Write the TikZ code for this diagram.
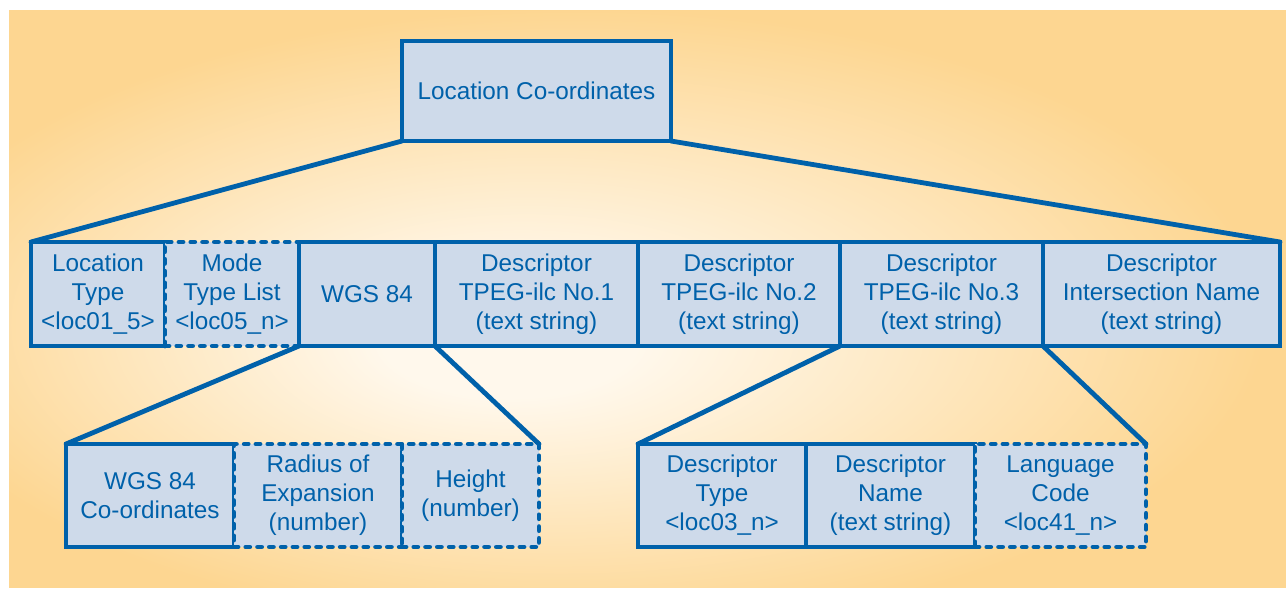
\documentclass[tikz,border=0pt]{standalone}
\usepackage{fontspec}
\setmainfont{Liberation Sans}
\usetikzlibrary{positioning}
\definecolor{lineblue}{RGB}{0,97,170}
\definecolor{boxfill}{RGB}{206,218,234}
\definecolor{bgout}{RGB}{253,214,145}
\definecolor{bgin}{RGB}{255,248,236}
\pgfdeclareradialshading{bgglow}{\pgfpoint{-6bp}{-4bp}}{color(0bp)=(bgin); color(5bp)=(bgin); color(27bp)=(bgout); color(50bp)=(bgout)}
\tikzset{
    x=1pt,
    y=-1pt,
    field/.style = {
        draw=lineblue,
        fill=boxfill,
        shape=rectangle,
        minimum height=104pt,
        line width=4.8pt,
        outer sep=0pt,
        inner sep=0pt,
        align=center,
        text=lineblue,
        font=\fontsize{24.3}{29}\selectfont
    },
    optfield/.style = {
        field,
        line cap=round,
        dash pattern=on 4pt off 7.8pt
    },
    branch/.style = {
        draw=lineblue,
        line width=4.8pt,
        line cap=round
    }
}
\begin{document}
\begin{tikzpicture}
    \useasboundingbox (0,0) rectangle (1286,589);
    \shade[shading=bgglow] (9,10) rectangle (1286,587);

    \node[field, minimum width=269pt, minimum height=100pt, anchor=north west] (top) at (402,41) {Location Co-ordinates};

    \node[field, minimum width=134pt, anchor=north west] (loctype) at (31,242) {Location\\Type\\<loc01\_5>};
    \node[optfield, minimum width=134pt, right=0pt of loctype] (modelist) {Mode\\Type List\\<loc05\_n>};
    \node[field, minimum width=136pt, right=0pt of modelist] (wgs) {WGS 84};
    \node[field, minimum width=203pt, right=0pt of wgs] (descone) {Descriptor\\TPEG-ilc No.1\\(text string)};
    \node[field, minimum width=202pt, right=0pt of descone] (desctwo) {Descriptor\\TPEG-ilc No.2\\(text string)};
    \node[field, minimum width=203pt, right=0pt of desctwo] (descthree) {Descriptor\\TPEG-ilc No.3\\(text string)};
    \node[field, minimum width=237pt, right=0pt of descthree] (descint) {Descriptor\\Intersection Name\\(text string)};

    \node[field, minimum width=168pt, minimum height=103pt, anchor=north west] (wgscoord) at (66,444) {WGS 84\\Co-ordinates};
    \node[optfield, minimum width=168pt, minimum height=103pt, right=0pt of wgscoord] (radius) {Radius of\\Expansion\\(number)};
    \node[optfield, minimum width=137pt, minimum height=103pt, right=0pt of radius] (height) {Height\\(number)};

    \node[field, minimum width=168pt, minimum height=103pt, anchor=north west] (desctype) at (638,444) {Descriptor\\Type\\<loc03\_n>};
    \node[field, minimum width=169pt, minimum height=103pt, right=0pt of desctype] (descname) {Descriptor\\Name\\(text string)};
    \node[optfield, minimum width=171pt, minimum height=103pt, right=0pt of descname] (langcode) {Language\\Code\\<loc41\_n>};

    \path[branch] (top.south west) -- (loctype.north west);
    \path[branch] (top.south east) -- (descint.north east);
    \path[branch] (wgs.south west) -- (wgscoord.north west);
    \path[branch] (wgs.south east) -- (height.north east);
    \path[branch] (descthree.south west) -- (desctype.north west);
    \path[branch] (descint.south west) -- (langcode.north east);
\end{tikzpicture}
\end{document}
